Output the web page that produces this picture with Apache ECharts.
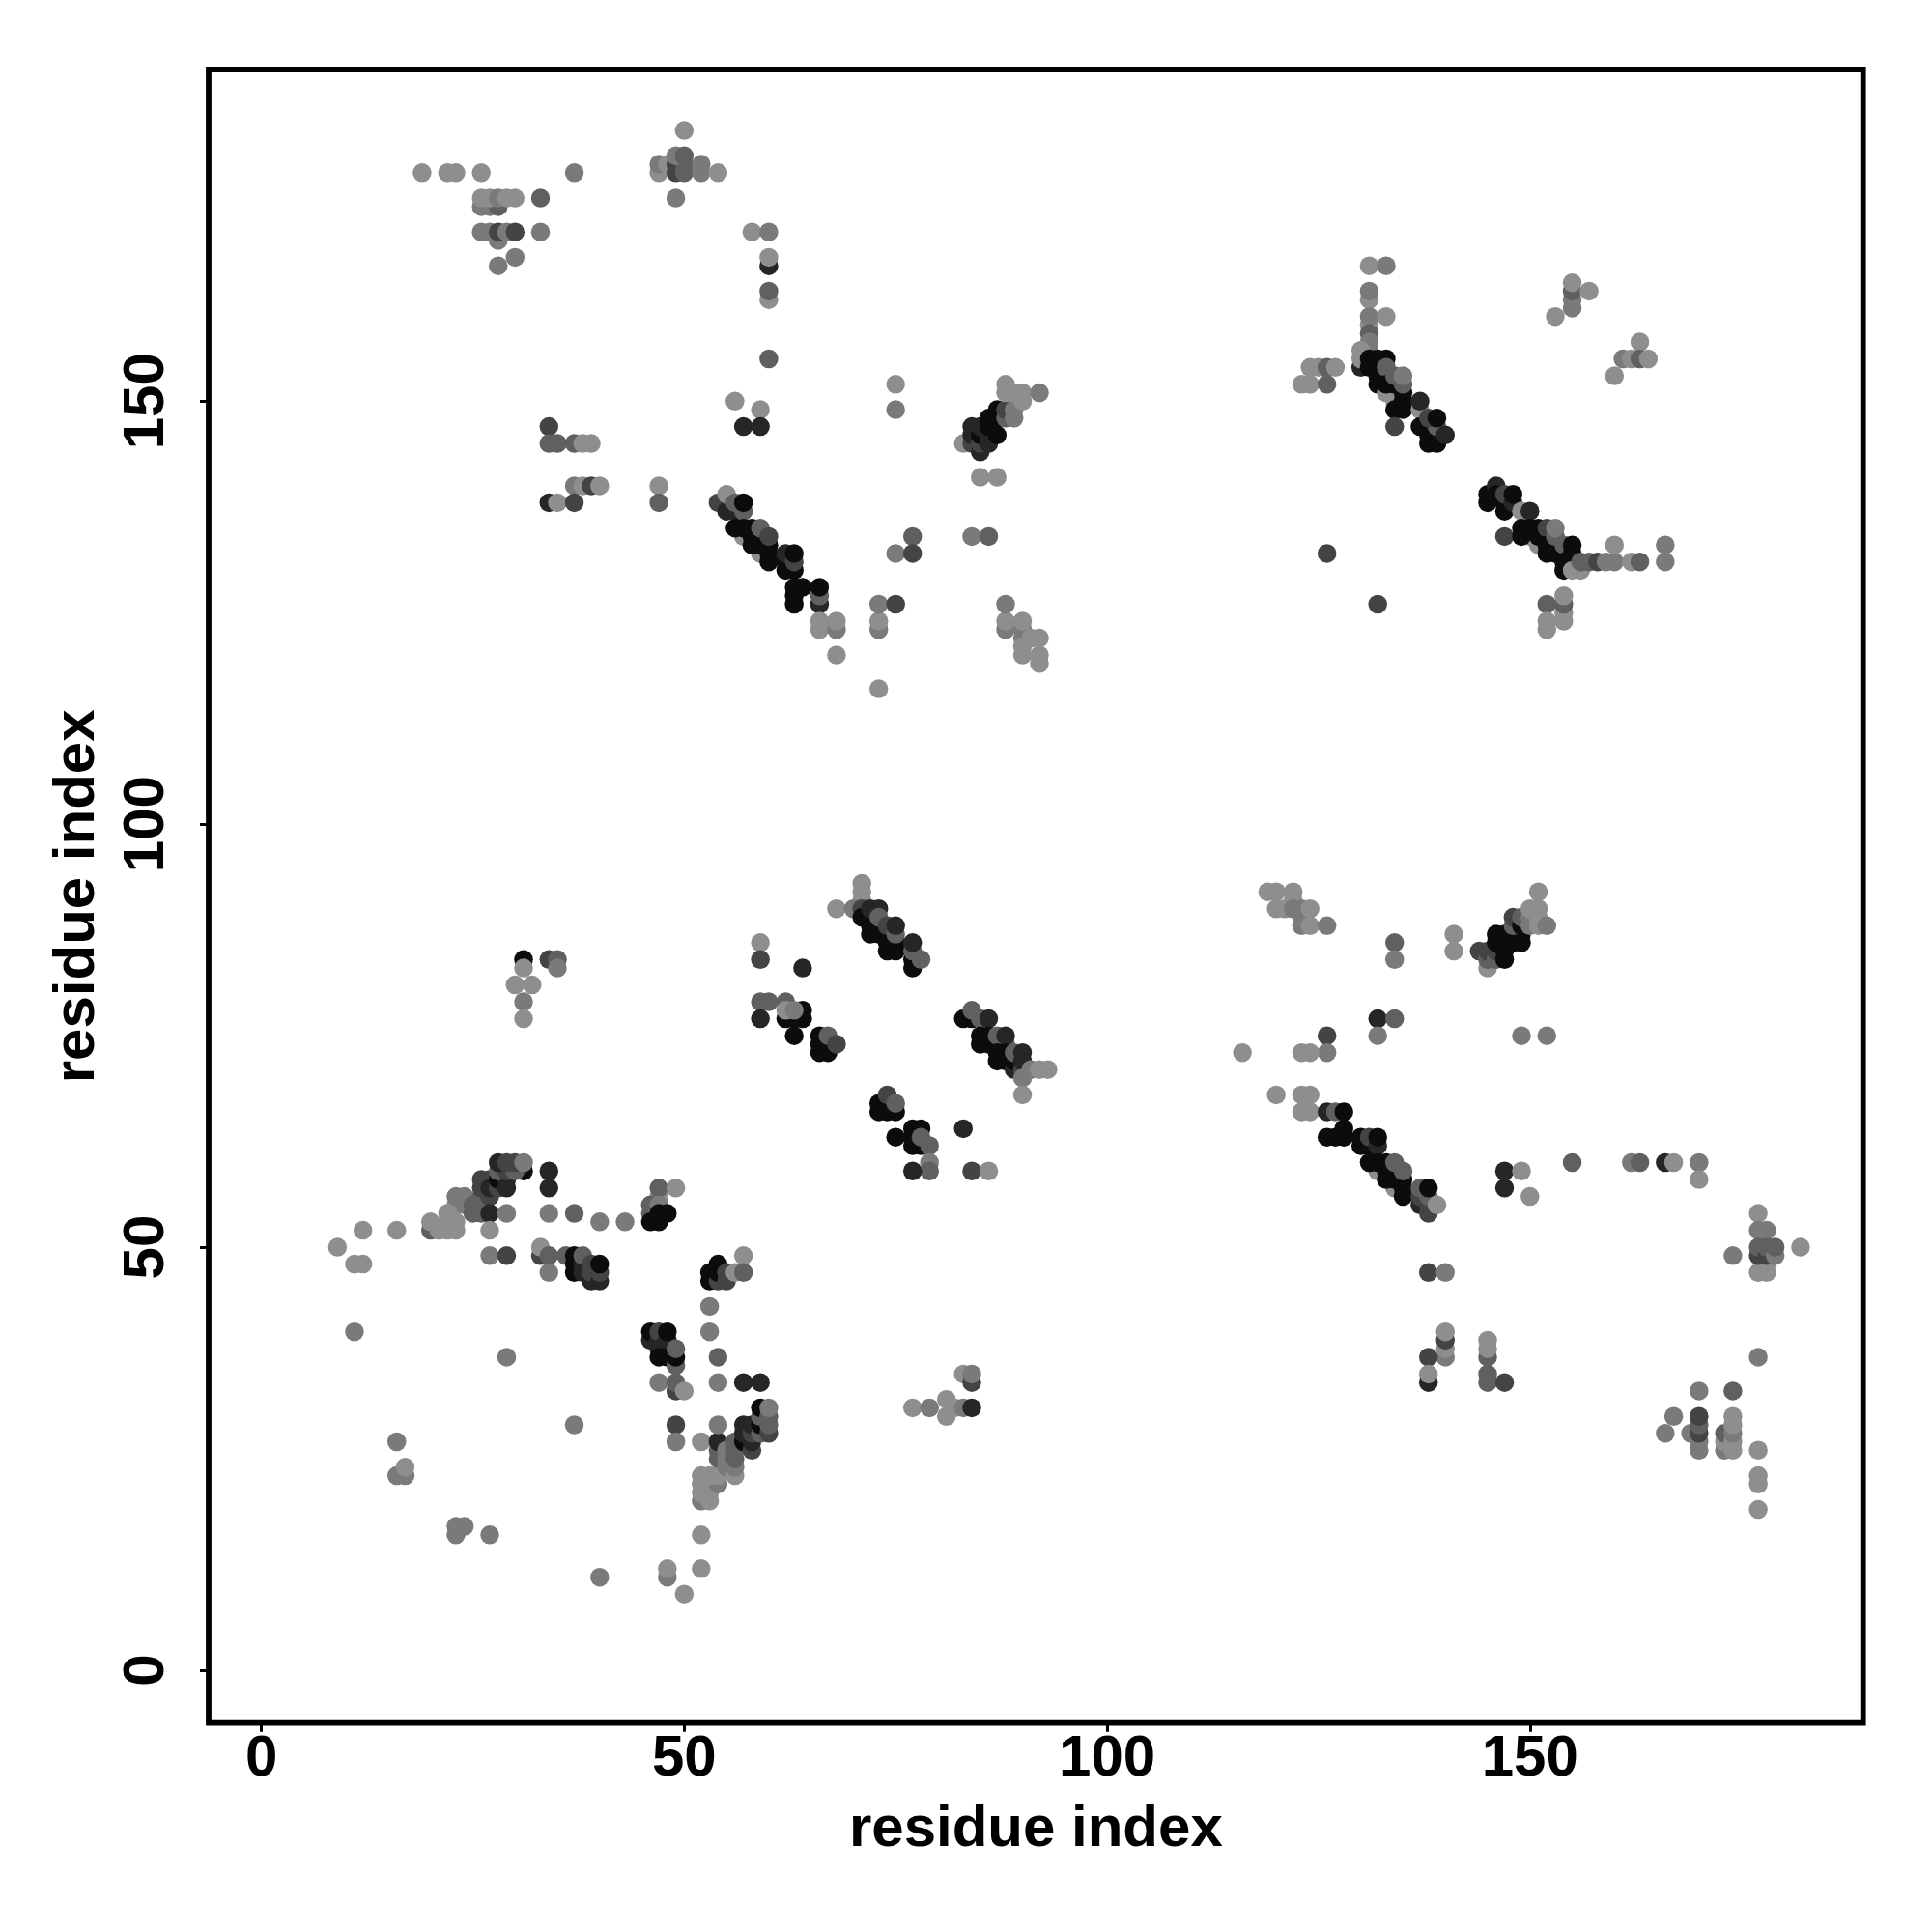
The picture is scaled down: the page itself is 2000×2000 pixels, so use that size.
<!DOCTYPE html>
<html><head><meta charset="utf-8">
<style>html,body{margin:0;padding:0;background:#fff}#c{width:2000px;height:2000px}</style>
<script src="https://cdn.jsdelivr.net/npm/echarts@6/dist/echarts.min.js"></script>
</head><body><div id="c"></div>
<script>
// Each contact: [residue i, residue j, level]; level 1 (weak) .. 6 (strong)
const topLeft = [[19,177,1],[22,177,1],[23,177,1],[26,177,1],[37,177,2],[26,173,2],[27,173,2],[28,173,3],[26,174,1],[27,174,1],[28,174,2],[29,174,1],[30,174,1],[33,174,3],[28,169,2],[26,170,2],[27,170,2],[28,170,4],[29,170,2],[30,170,4],[33,170,2],[30,167,2],[28,166,2]];
const topCentre = [[50,182,1],[47,177,1],[47,178,2],[48,178,1],[49,177,4],[49,178,4],[50,177,3],[50,178,3],[52,177,2],[52,178,2],[49,179,2],[50,179,3],[54,177,1],[49,174,2]];
const upperStem = [[58,170,1],[60,170,2],[60,166,5],[60,167,1],[60,162,1],[60,163,3],[60,155,3],[56,150,1],[59,149,1],[57,147,5],[59,147,5],[75,152,1],[75,149,2]];
const upperLeftPairs = [[34,147,4],[34,145,3],[35,145,3],[37,145,3],[38,145,1],[39,145,1],[37,140,2],[38,140,1],[39,140,4],[40,140,1],[34,138,5],[35,138,1],[37,138,4],[47,140,1],[47,138,3]];
const diagonalA = [[54,138,4],[55,137,5],[56,137,5],[55,139,1],[56,138,3],[57,137,3],[57,138,6],[57,134,1],[59,132,1],[56,135,6],[57,135,6],[58,135,6],[58,134,6],[58,133,6],[59,133,6],[60,133,6],[60,132,6],[60,131,6],[59,135,3],[60,134,4],[62,130,6],[63,130,6],[62,131,6],[62,132,5],[63,131,4],[63,132,6],[63,126,6],[63,127,6],[63,128,6],[64,128,6],[66,126,5],[66,127,3],[66,128,6]];
const belowA = [[66,123,1],[66,124,1],[68,123,2],[68,124,1],[68,120,1],[73,123,2],[73,124,1],[73,126,2],[75,126,4],[73,116,1],[75,132,2],[77,134,3],[77,132,4],[84,134,2],[86,134,3],[85,141,1],[87,141,1],[88,123,2],[88,124,1],[88,126,2],[90,123,2],[90,122,2],[90,120,1],[90,121,1],[90,124,1],[91,122,1],[92,122,1],[92,119,1],[92,120,1]];
const bundleB = [[83,145,1],[84,145,4],[85,144,5],[84,146,5],[84,147,5],[85,145,4],[85,146,6],[85,147,5],[86,145,5],[86,146,5],[86,147,6],[86,148,6],[87,146,6],[87,148,6],[87,149,6],[88,148,3],[88,149,4],[88,152,1],[88,151,1],[89,148,2],[89,149,2],[89,151,1],[90,150,1],[90,151,1],[92,151,2]];
const diagonalC = [[131,166,1],[133,166,2],[131,162,1],[131,163,2],[131,159,1],[131,160,2],[133,160,1],[131,158,3],[131,157,2],[131,156,2],[130,154,5],[130,155,1],[130,156,1],[131,154,6],[131,155,6],[132,152,6],[132,153,6],[132,154,6],[132,155,6],[133,155,6],[133,151,1],[134,150,1],[133,154,3],[133,152,6],[134,152,6],[134,149,6],[135,149,6],[135,150,6],[135,151,6],[134,153,3],[135,152,3],[135,153,2],[134,147,4],[137,149,1],[137,147,6],[137,150,5],[138,145,6],[139,145,6],[138,146,6],[139,146,6],[138,147,6],[139,147,3],[138,148,4],[139,148,6],[140,146,5],[123,152,1],[124,152,1],[126,152,3],[124,154,1],[125,154,1],[126,154,3],[127,154,1],[126,132,4],[132,126,4]];
const upperRight = [[155,161,2],[155,162,2],[155,163,3],[155,164,1],[157,163,1],[153,160,1],[163,157,1],[161,155,2],[162,155,1],[163,155,3],[164,155,1],[160,153,1]];
const diagonalD = [[145,138,6],[145,139,6],[146,140,5],[146,139,6],[147,137,6],[147,138,6],[147,139,4],[148,138,5],[148,139,6],[149,137,1],[150,137,5],[147,134,4],[150,134,1],[149,134,6],[149,135,6],[150,135,6],[151,133,1],[151,134,6],[151,135,6],[152,135,4],[152,132,6],[152,133,6],[153,132,6],[153,133,6],[153,134,3],[153,135,2],[154,133,3],[154,130,6],[154,131,6],[155,131,6],[155,132,6],[155,133,6],[155,130,1],[156,130,1],[156,131,3],[157,131,3],[158,131,4],[159,131,2],[160,131,2],[162,131,1],[163,131,3],[166,131,2],[160,133,1],[166,133,2],[152,126,3],[154,124,1],[154,125,1],[154,126,3],[154,127,1],[152,123,1],[152,124,1]];
const leftCluster = [[9,50,1],[12,52,1],[16,52,1],[11,48,1],[12,48,1],[11,40,2],[29,37,2],[20,52,3],[20,53,1],[21,52,1],[22,52,1],[23,52,1],[22,53,1],[23,53,1],[22,54,1],[23,55,1],[23,56,2],[24,55,2],[24,56,2],[25,54,3],[25,55,3],[26,54,3],[26,56,3],[26,57,4],[26,58,4],[27,58,4],[27,56,4],[27,57,5],[27,54,5],[29,54,2],[27,52,1],[27,49,2],[29,49,4],[28,57,4],[28,58,6],[29,57,5],[29,58,5],[28,59,3],[29,59,4],[31,59,6],[30,59,3],[28,60,5],[29,60,4],[30,60,4],[31,60,2],[34,59,5],[34,57,5],[34,54,2],[37,54,3],[40,53,2],[43,53,2]];
const leftChain = [[33,49,4],[33,50,1],[34,49,3],[34,47,2],[36,49,3],[37,47,6],[37,48,6],[37,49,6],[38,47,5],[38,48,5],[38,49,3],[39,46,5],[39,47,4],[39,48,4],[40,46,5],[40,47,4],[40,48,6]];
const lowerSpurA = [[47,56,1],[47,57,3],[49,57,1],[46,55,3],[46,54,3],[47,55,2],[46,53,6],[47,53,6],[47,54,6],[48,54,6],[57,49,1],[53,46,6],[53,47,6],[54,46,4],[54,47,6],[54,48,6],[55,46,4],[55,47,4],[56,47,1],[57,47,3],[53,43,2],[53,40,2],[54,37,3],[54,34,2],[57,34,5],[59,34,5]];
const lowerSpurB = [[46,39,5],[46,40,6],[47,39,5],[47,40,4],[48,39,5],[48,40,6],[47,38,5],[47,37,6],[48,37,6],[49,36,3],[49,37,6],[49,38,3],[47,34,2],[49,33,4],[49,34,3],[50,33,1],[49,29,4],[49,27,2],[52,27,1]];
const lowerDiagonal = [[52,20,2],[53,20,1],[52,21,1],[53,21,1],[52,22,1],[53,22,1],[54,22,2],[52,23,1],[53,23,1],[54,23,1],[54,25,3],[54,26,3],[54,27,5],[54,29,2],[55,24,2],[55,25,2],[55,26,2],[56,23,1],[56,24,2],[56,25,3],[56,26,3],[56,27,3],[57,27,6],[57,28,5],[57,29,5],[58,26,4],[58,27,5],[58,28,4],[58,29,5],[59,28,3],[59,29,6],[59,30,3],[59,31,6],[60,28,4],[60,29,3],[60,30,3],[60,31,2]];
const bottomLeft = [[52,16,1],[48,11,2],[48,12,1],[52,12,1],[50,9,1],[16,27,2],[16,23,2],[17,23,2],[17,24,1],[23,16,2],[23,17,2],[24,17,2],[27,16,2],[40,11,2],[37,29,2]];
const bottomMiddle = [[77,31,1],[79,31,2],[81,30,1],[81,32,1],[82,31,1],[83,31,2],[84,31,5],[83,35,1],[84,34,4],[84,35,2]];
const centreTop = [[71,93,1],[71,92,1],[71,91,1],[68,90,1],[70,90,2],[71,90,4],[71,89,6],[72,87,6],[72,88,6],[72,89,6],[72,90,5],[73,90,5],[73,87,6],[73,88,6],[73,89,3],[74,85,6],[74,86,6],[74,87,6],[74,88,4],[75,85,6],[75,86,6],[75,87,3],[75,88,5],[77,83,6],[77,84,6],[77,85,3],[77,86,5],[78,84,3]];
const centreLeft = [[59,86,1],[59,84,4],[64,83,5],[59,79,3],[60,79,3],[62,79,3],[59,77,5],[62,77,6],[63,77,6],[64,77,6],[64,78,6],[62,78,1],[63,78,2],[63,75,6],[66,73,6],[67,73,6],[66,74,6],[66,75,6],[67,74,6],[67,75,3],[68,74,4],[31,84,6],[31,83,1],[34,84,4],[35,84,3],[35,83,2],[30,81,1],[32,81,1],[31,79,2],[31,77,1]];
const centreBottom = [[73,66,6],[74,66,6],[75,66,6],[73,67,6],[74,67,6],[74,68,4],[75,67,3],[75,63,6],[77,62,6],[78,62,6],[77,63,6],[77,64,6],[78,64,6],[78,63,3],[79,62,3],[83,64,5],[79,60,2],[79,59,3],[77,59,5],[84,59,4],[86,59,1]];
const centreRight = [[83,77,6],[84,77,6],[84,78,3],[85,77,3],[86,77,5],[85,74,6],[85,75,6],[86,74,6],[86,75,6],[87,74,6],[87,75,3],[88,74,3],[88,75,5],[87,72,6],[87,73,6],[88,72,6],[88,73,6],[89,71,5],[89,72,6],[89,73,3],[90,71,4],[90,72,5],[90,73,5],[90,70,2],[90,68,1],[91,71,2],[92,71,1],[93,71,1]];
const rightUpperLeft = [[119,92,1],[120,92,1],[122,92,1],[120,90,1],[121,90,1],[122,91,1],[122,90,2],[123,89,2],[123,90,2],[124,90,1],[123,88,2],[124,88,1],[126,88,2],[134,86,3],[134,84,2],[141,87,1],[141,85,1]];
const rightUpperBundle = [[145,83,1],[144,85,4],[145,84,3],[145,85,4],[146,84,3],[146,85,4],[147,84,6],[147,85,6],[146,86,6],[147,86,6],[146,87,6],[147,87,6],[148,86,6],[149,86,6],[149,87,6],[148,88,3],[148,89,4],[149,88,6],[149,89,3],[150,88,2],[150,89,2],[151,88,1],[151,89,1],[152,88,2],[150,90,1],[151,90,1],[151,92,1]];
const rightMiddle = [[132,77,5],[134,77,3],[132,75,2],[126,75,4],[126,73,2],[123,73,1],[124,73,1],[116,73,1],[149,75,2],[152,75,2],[120,68,1],[123,68,1],[124,68,1],[123,66,1],[124,66,1]];
const diagonalE = [[126,66,5],[127,66,3],[128,66,6],[126,63,6],[127,63,6],[128,63,6],[128,64,6],[130,62,6],[130,63,6],[131,62,6],[131,63,4],[132,62,5],[132,63,6],[132,59,1],[131,60,6],[132,60,6],[133,60,6],[134,57,1],[133,58,6],[133,59,6],[134,58,6],[134,59,6],[134,60,3],[135,56,6],[135,57,6],[135,58,6],[135,59,3],[137,55,5],[137,56,4],[137,57,3],[138,54,4],[138,55,4],[138,56,3],[138,57,6],[139,55,1]];
const rightLower = [[147,59,5],[149,59,1],[147,57,5],[150,56,1],[155,60,3],[162,60,2],[163,60,3],[166,60,5],[167,60,1],[170,60,2],[170,58,1],[138,47,4],[140,47,2],[140,37,2],[140,38,1],[140,39,4],[140,40,1],[138,37,4],[138,34,5],[138,35,1],[145,37,3],[145,38,1],[145,39,1],[145,34,3],[145,35,3],[147,34,4]];
const farRight = [[177,54,1],[177,52,2],[178,52,2],[174,49,2],[177,47,1],[178,47,1],[178,48,1],[177,49,4],[177,50,3],[178,49,4],[178,50,3],[179,49,2],[179,50,3],[182,50,1],[177,37,2]];
const farRightLower = [[170,33,2],[174,33,3],[167,30,2],[166,28,2],[169,28,2],[170,26,2],[170,27,2],[170,28,4],[170,29,3],[170,30,4],[173,26,2],[173,27,1],[173,28,3],[174,26,1],[174,27,1],[174,28,2],[174,29,1],[174,30,1],[177,26,1],[177,22,1],[177,23,1],[177,19,1]];

const contacts = [].concat(topLeft, topCentre, upperStem, upperLeftPairs, diagonalA, belowA, bundleB, diagonalC, upperRight, diagonalD, leftCluster, leftChain, lowerSpurA, lowerSpurB, lowerDiagonal, bottomLeft, bottomMiddle, centreTop, centreLeft, centreBottom, centreRight, rightUpperLeft, rightUpperBundle, rightMiddle, diagonalE, rightLower, farRight, farRightLower);
const tickValues = [0, 50, 100, 150];
const axisTitle = 'residue index';
const levelGreys = ['', '#8e8e8e', '#7a7a7a', '#606060', '#444444', '#262626', '#0c0c0c'];

const font = '"Liberation Sans", Arial, sans-serif';
function makeAxis(extra) {
  return Object.assign({
    type: 'value',
    name: axisTitle,
    nameLocation: 'middle',
    nameTextStyle: { fontFamily: font, fontWeight: 'bold', fontSize: 60, color: '#000' },
    splitLine: { show: false },
    axisLine: { show: false, onZero: false },
    axisTick: { show: true, length: 9, lineStyle: { color: '#000', width: 3 }, customValues: tickValues },
  }, extra);
}
const chart = echarts.init(document.getElementById('c'), null, { renderer: 'canvas' });
chart.setOption({
  animation: false,
  backgroundColor: '#fff',
  grid: { left: 216, top: 72, width: 1712.7, height: 1711.7, show: true, borderColor: '#000', borderWidth: 5.8, backgroundColor: '#fff' },
  xAxis: makeAxis({
    min: -6.24, max: 189.4, nameGap: 81,
    axisLabel: { customValues: tickValues, fontFamily: font, fontWeight: 'bold', fontSize: 60, color: '#000', margin: 8 },
  }),
  yAxis: makeAxis({
    min: -6.25, max: 189.2, nameGap: 106, nameRotate: 90,
    axisLabel: { customValues: tickValues, rotate: 90, fontFamily: font, fontWeight: 'bold', fontSize: 60, color: '#000', margin: 34 },
  }),
  series: [{
    type: 'scatter',
    data: contacts,
    symbol: 'circle',
    symbolSize: 19.5,
    itemStyle: { color: p => levelGreys[p.value[2]], opacity: 1 },
    encode: { x: 0, y: 1 },
  }],
});
</script></body></html>
